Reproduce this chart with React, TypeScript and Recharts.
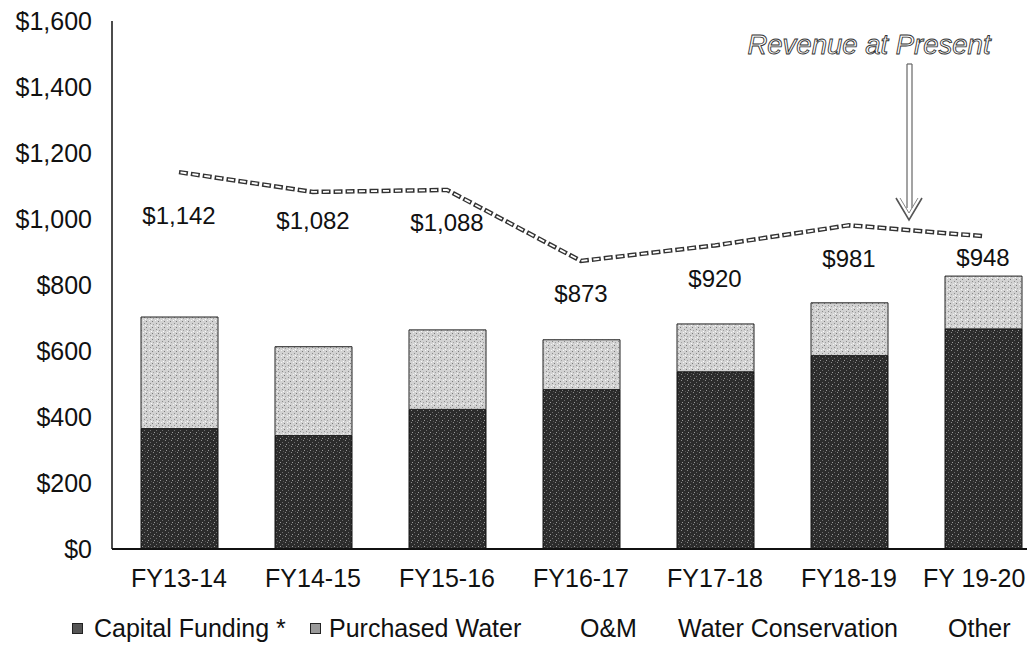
import React from 'react'
import {
  ComposedChart,
  Bar,
  Line,
  XAxis,
  YAxis,
  LabelList,
  Customized,
} from 'recharts'

// fiscal years on the x axis
const years = ['FY13-14', 'FY14-15', 'FY15-16', 'FY16-17', 'FY17-18', 'FY18-19', 'FY 19-20']

// stacked bars ($ thousands)
const capitalFunding = [365, 344, 423, 483, 537, 586, 667]
const purchasedWater = [338, 269, 241, 151, 145, 160, 160]

// dashed line: revenue at present rates
const revenue = [1142, 1082, 1088, 873, 920, 981, 948]

const yTicks = [0, 200, 400, 600, 800, 1000, 1200, 1400, 1600]

const legendNames = ['Capital Funding *', 'Purchased Water', 'O&M', 'Water Conservation', 'Other']

const rows = years.map((year, i) => ({
  year,
  capital: capitalFunding[i],
  purchased: purchasedWater[i],
  revenue: revenue[i],
}))

const FONT = '"Liberation Sans", Arial, sans-serif'
const VISIBLE_W = 1027

// how far below each line point its value label sits (layout only)
const labelDy = [43, 28, 32, 32, 33, 33, 21]

const money = (v: number) => '$' + v.toLocaleString('en-US')

// value label under each point of the revenue line
function RevenueLabel(props: any) {
  const { x, y, value, index } = props
  return (
    <text
      x={x}
      y={y + (labelDy[index] ?? 32) + 9}
      textAnchor="middle"
      fontFamily={FONT}
      fontSize={24}
      fill="#111"
    >
      {money(value)}
    </text>
  )
}

// x tick; the last one is pulled in so it stays on the page
function YearTick(props: any) {
  const { x, y, payload } = props
  const halfW = payload.value.length * 6.6
  const cx = Math.min(x, VISIBLE_W - 8 - halfW)
  return (
    <text
      x={cx}
      y={y + 18}
      textAnchor="middle"
      fontFamily={FONT}
      fontSize={25}
      fill="#111"
    >
      {payload.value}
    </text>
  )
}

// "Revenue at Present" note with its hollow arrow
function Annotation() {
  return (
    <g>
      <text
        x={861}
        y={46}
        textAnchor="middle"
        fontFamily={FONT}
        fontStyle="italic"
        fontSize={27.5}
        fill="#fff"
        stroke="#333"
        strokeWidth={0.9}
      >
        Revenue at Present
      </text>
      <line x1={899} y1={56} x2={899} y2={200} stroke="#666" strokeWidth={1.2} />
      <line x1={904} y1={56} x2={904} y2={200} stroke="#666" strokeWidth={1.2} />
      <line x1={899} y1={56} x2={904} y2={56} stroke="#666" strokeWidth={1.2} />
      <polyline points="888,190 901,212 914,190" fill="none" stroke="#555" strokeWidth={1.6} />
      <polyline points="892,190 901,205 910,190" fill="none" stroke="#888" strokeWidth={1} />
    </g>
  )
}

const legendLeft = [64, 302, 564, 662, 932]

export default function App() {
  return (
    <div
      style={{
        position: 'relative',
        width: VISIBLE_W,
        height: 639,
        overflow: 'hidden',
        fontFamily: FONT,
      }}
    >
      {/* keep the page exactly one screen tall so no scrollbar shows */}
      <style>{'html{overflow:hidden}body{margin:8px 8px 0}'}</style>
      <ComposedChart
        width={1042}
        height={600}
        data={rows}
        margin={{ top: 13, right: 0, bottom: 19, left: 0 }}
        barCategoryGap={0}
      >
        <defs>
          {/* speckled fills, like the scanned halftone */}
          <pattern id="darkFill" width="6" height="6" patternUnits="userSpaceOnUse">
            <rect width="6" height="6" fill="#2c2c2c" />
            <rect x="1" y="0" width="1" height="1" fill="#8a8a8a" />
            <rect x="4" y="2" width="1" height="1" fill="#6e6e6e" />
            <rect x="2" y="4" width="1" height="1" fill="#9a9a9a" />
            <rect x="5" y="5" width="1" height="1" fill="#555" />
          </pattern>
          <pattern id="lightFill" width="6" height="6" patternUnits="userSpaceOnUse">
            <rect width="6" height="6" fill="#d2d2d2" />
            <rect x="0" y="1" width="1" height="1" fill="#7a7a7a" />
            <rect x="3" y="0" width="1" height="1" fill="#f4f4f4" />
            <rect x="4" y="3" width="1" height="1" fill="#8c8c8c" />
            <rect x="1" y="4" width="1" height="1" fill="#a0a0a0" />
            <rect x="5" y="5" width="1" height="1" fill="#fafafa" />
          </pattern>
        </defs>
        <XAxis
          dataKey="year"
          height={40}
          tickLine={false}
          tickSize={6}
          tickMargin={14}
          axisLine={{ stroke: '#111', strokeWidth: 2 }}
          tick={<YearTick />}
          interval={0}
        />
        <YAxis
          width={104}
          domain={[0, 1600]}
          ticks={yTicks}
          tickFormatter={money}
          tickLine={false}
          tickSize={6}
          tickMargin={14}
          axisLine={{ stroke: '#111', strokeWidth: 1.5 }}
          tick={{ fontSize: 25, fill: '#111', fontFamily: FONT }}
          interval={0}
        />
        <Bar
          dataKey="capital"
          stackId="a"
          barSize={77}
          fill="url(#darkFill)"
          stroke="#111"
          strokeWidth={1}
          isAnimationActive={false}
        />
        <Bar
          dataKey="purchased"
          stackId="a"
          barSize={77}
          fill="url(#lightFill)"
          stroke="#222"
          strokeWidth={1}
          isAnimationActive={false}
        />
        <Line
          dataKey="revenue"
          type="linear"
          stroke="#333"
          strokeWidth={4.5}
          strokeDasharray="9 3"
          dot={false}
          activeDot={false}
          legendType="none"
          isAnimationActive={false}
        />
        <Line
          dataKey="revenue"
          type="linear"
          stroke="#fff"
          strokeWidth={1.8}
          strokeDasharray="6 6"
          strokeDashoffset={-1.5}
          dot={false}
          activeDot={false}
          legendType="none"
          isAnimationActive={false}
        >
          <LabelList dataKey="revenue" content={<RevenueLabel />} />
        </Line>
        <Customized component={<Annotation />} />
      </ComposedChart>

      {legendNames.map((name, i) => (
        <div
          key={name}
          style={{
            position: 'absolute',
            left: legendLeft[i],
            top: 604,
            display: 'flex',
            alignItems: 'center',
            fontSize: 25,
            lineHeight: '32px',
            color: '#111',
            whiteSpace: 'nowrap',
          }}
        >
          {i < 2 && (
            <span
              style={{
                display: 'inline-block',
                width: 9,
                height: 9,
                marginRight: i === 0 ? 11 : 8,
                background: i === 0 ? '#555' : '#999',
                border: '1px solid #222',
              }}
            />
          )}
          <span style={{ marginLeft: i < 2 ? 0 : 8 }}>{name}</span>
        </div>
      ))}
    </div>
  )
}
